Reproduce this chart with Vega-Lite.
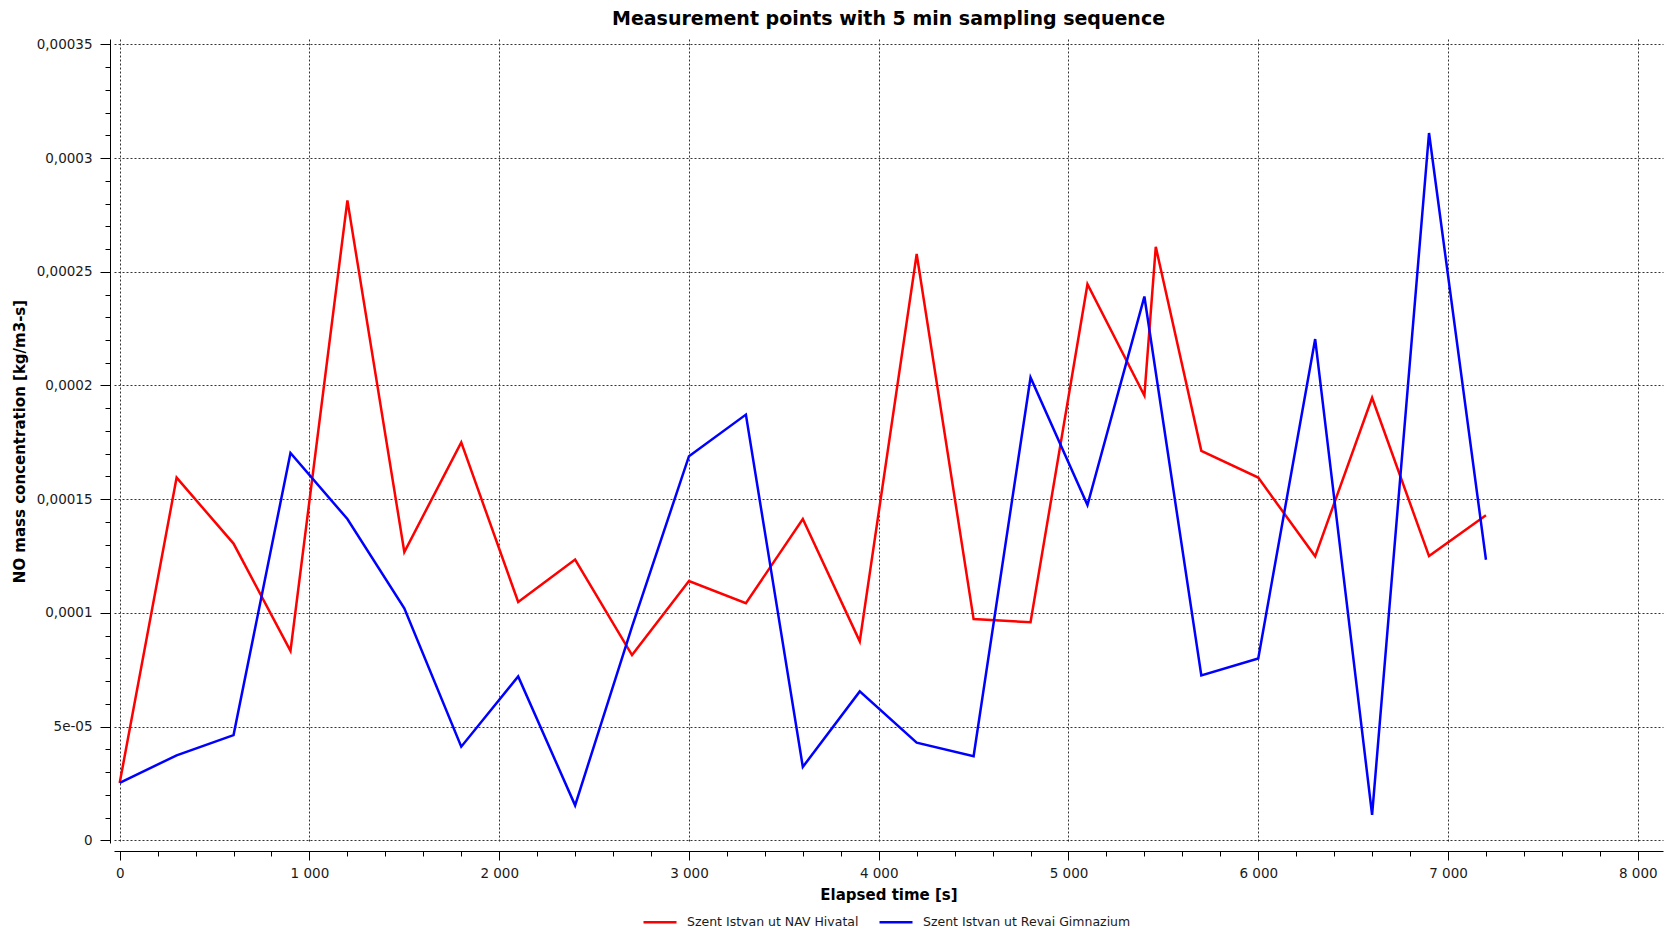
{
  "$schema": "https://vega.github.io/schema/vega-lite/v6.json",
  "autosize": {"type": "none"},
  "width": 1549,
  "height": 804,
  "padding": {"left": 114, "top": 39, "right": 4, "bottom": 92},
  "background": "#ffffff",
  "config": {"font": "DejaVu Sans", "view": {"stroke": null}},
  "title": {
    "text": "Measurement points with 5 min sampling sequence",
    "anchor": "middle",
    "frame": "group",
    "font": "DejaVu Sans",
    "fontSize": 19,
    "fontWeight": "bold",
    "color": "#000000",
    "offset": 8
  },
  "data": {
    "values": [
      {"t": 0, "v": 0.0000253, "s": "Szent Istvan ut NAV Hivatal"},
      {"t": 300, "v": 0.0001595, "s": "Szent Istvan ut NAV Hivatal"},
      {"t": 600, "v": 0.0001305, "s": "Szent Istvan ut NAV Hivatal"},
      {"t": 900, "v": 0.0000833, "s": "Szent Istvan ut NAV Hivatal"},
      {"t": 1200, "v": 0.0002814, "s": "Szent Istvan ut NAV Hivatal"},
      {"t": 1500, "v": 0.0001268, "s": "Szent Istvan ut NAV Hivatal"},
      {"t": 1800, "v": 0.000175, "s": "Szent Istvan ut NAV Hivatal"},
      {"t": 2100, "v": 0.0001048, "s": "Szent Istvan ut NAV Hivatal"},
      {"t": 2400, "v": 0.0001235, "s": "Szent Istvan ut NAV Hivatal"},
      {"t": 2700, "v": 0.0000815, "s": "Szent Istvan ut NAV Hivatal"},
      {"t": 3000, "v": 0.000114, "s": "Szent Istvan ut NAV Hivatal"},
      {"t": 3300, "v": 0.0001043, "s": "Szent Istvan ut NAV Hivatal"},
      {"t": 3600, "v": 0.0001413, "s": "Szent Istvan ut NAV Hivatal"},
      {"t": 3900, "v": 0.0000875, "s": "Szent Istvan ut NAV Hivatal"},
      {"t": 4200, "v": 0.0002578, "s": "Szent Istvan ut NAV Hivatal"},
      {"t": 4500, "v": 0.0000973, "s": "Szent Istvan ut NAV Hivatal"},
      {"t": 4800, "v": 0.0000959, "s": "Szent Istvan ut NAV Hivatal"},
      {"t": 5100, "v": 0.0002445, "s": "Szent Istvan ut NAV Hivatal"},
      {"t": 5400, "v": 0.0001956, "s": "Szent Istvan ut NAV Hivatal"},
      {"t": 5460, "v": 0.000261, "s": "Szent Istvan ut NAV Hivatal"},
      {"t": 5700, "v": 0.0001713, "s": "Szent Istvan ut NAV Hivatal"},
      {"t": 6000, "v": 0.0001595, "s": "Szent Istvan ut NAV Hivatal"},
      {"t": 6300, "v": 0.0001249, "s": "Szent Istvan ut NAV Hivatal"},
      {"t": 6600, "v": 0.0001946, "s": "Szent Istvan ut NAV Hivatal"},
      {"t": 6900, "v": 0.000125, "s": "Szent Istvan ut NAV Hivatal"},
      {"t": 7200, "v": 0.000143, "s": "Szent Istvan ut NAV Hivatal"},
      {"t": 0, "v": 0.0000253, "s": "Szent Istvan ut Revai Gimnazium"},
      {"t": 300, "v": 0.0000374, "s": "Szent Istvan ut Revai Gimnazium"},
      {"t": 600, "v": 0.0000463, "s": "Szent Istvan ut Revai Gimnazium"},
      {"t": 900, "v": 0.0001703, "s": "Szent Istvan ut Revai Gimnazium"},
      {"t": 1200, "v": 0.0001413, "s": "Szent Istvan ut Revai Gimnazium"},
      {"t": 1500, "v": 0.000102, "s": "Szent Istvan ut Revai Gimnazium"},
      {"t": 1800, "v": 0.0000412, "s": "Szent Istvan ut Revai Gimnazium"},
      {"t": 2100, "v": 0.0000721, "s": "Szent Istvan ut Revai Gimnazium"},
      {"t": 2400, "v": 0.0000154, "s": "Szent Istvan ut Revai Gimnazium"},
      {"t": 2700, "v": 0.000094, "s": "Szent Istvan ut Revai Gimnazium"},
      {"t": 3000, "v": 0.0001689, "s": "Szent Istvan ut Revai Gimnazium"},
      {"t": 3300, "v": 0.0001872, "s": "Szent Istvan ut Revai Gimnazium"},
      {"t": 3600, "v": 0.0000323, "s": "Szent Istvan ut Revai Gimnazium"},
      {"t": 3900, "v": 0.0000655, "s": "Szent Istvan ut Revai Gimnazium"},
      {"t": 4200, "v": 0.000043, "s": "Szent Istvan ut Revai Gimnazium"},
      {"t": 4500, "v": 0.000037, "s": "Szent Istvan ut Revai Gimnazium"},
      {"t": 4800, "v": 0.0002035, "s": "Szent Istvan ut Revai Gimnazium"},
      {"t": 5100, "v": 0.0001474, "s": "Szent Istvan ut Revai Gimnazium"},
      {"t": 5400, "v": 0.0002391, "s": "Szent Istvan ut Revai Gimnazium"},
      {"t": 5700, "v": 0.0000725, "s": "Szent Istvan ut Revai Gimnazium"},
      {"t": 6000, "v": 0.00008, "s": "Szent Istvan ut Revai Gimnazium"},
      {"t": 6300, "v": 0.0002204, "s": "Szent Istvan ut Revai Gimnazium"},
      {"t": 6600, "v": 0.0000112, "s": "Szent Istvan ut Revai Gimnazium"},
      {"t": 6900, "v": 0.000311, "s": "Szent Istvan ut Revai Gimnazium"},
      {"t": 7200, "v": 0.0001234, "s": "Szent Istvan ut Revai Gimnazium"}
    ]
  },
  "mark": {"type": "line", "strokeWidth": 2.5, "interpolate": "linear"},
  "encoding": {
    "x": {
      "field": "t",
      "type": "quantitative",
      "scale": {"domain": [-30, 8133], "nice": false, "zero": false},
      "axis": {
        "title": "Elapsed time [s]",
        "titleFont": "DejaVu Sans",
        "titleFontSize": 15,
        "titleFontWeight": "bold",
        "titleColor": "#000000",
        "titlePadding": 8,
        "values": [0, 200, 400, 600, 800, 1000, 1200, 1400, 1600, 1800, 2000, 2200, 2400, 2600, 2800, 3000, 3200, 3400, 3600, 3800, 4000, 4200, 4400, 4600, 4800, 5000, 5200, 5400, 5600, 5800, 6000, 6200, 6400, 6600, 6800, 7000, 7200, 7400, 7600, 7800, 8000],
        "offset": 8,
        "domainColor": "#000000",
        "domainWidth": 1,
        "tickColor": "#000000",
        "tickWidth": 1,
        "tickSize": {"condition": {"test": "datum.value % 1000 === 0", "value": 9}, "value": 5},
        "labelExpr": "datum.value % 1000 === 0 ? replace(format(datum.value, ','), ',', ' ') : ''",
        "labelFont": "DejaVu Sans",
        "labelFontSize": 13.5,
        "labelColor": "#1a1a1a",
        "labelPadding": 6,
        "labelOverlap": false,
        "labelFlush": false,
        "grid": true,
        "gridColor": "#333333",
        "gridDash": [2, 2],
        "gridWidth": 1,
        "gridOpacity": {"condition": {"test": "datum.value % 1000 === 0", "value": 1}, "value": 0}
      }
    },
    "y": {
      "field": "v",
      "type": "quantitative",
      "scale": {"domain": [-0.00000114, 0.00035233], "nice": false, "zero": false},
      "axis": {
        "title": "NO mass concentration [kg/m3-s]",
        "titleFont": "DejaVu Sans",
        "titleFontSize": 15,
        "titleFontWeight": "bold",
        "titleColor": "#000000",
        "titlePadding": 9,
        "values": [0, 0.00001, 0.00002, 0.00003, 0.00004, 0.00005, 0.00006, 0.00007, 0.00008, 0.00009, 0.0001, 0.00011, 0.00012, 0.00013, 0.00014, 0.00015, 0.00016, 0.00017, 0.00018, 0.00019, 0.0002, 0.00021, 0.00022, 0.00023, 0.00024, 0.00025, 0.00026, 0.00027, 0.00028, 0.00029, 0.0003, 0.00031, 0.00032, 0.00033, 0.00034, 0.00035],
        "offset": 4,
        "domainColor": "#000000",
        "domainWidth": 1,
        "tickColor": "#000000",
        "tickWidth": 1,
        "tickSize": {"condition": {"test": "abs(datum.value * 20000 - round(datum.value * 20000)) < 0.001", "value": 10}, "value": 5},
        "labelExpr": "abs(datum.value * 20000 - round(datum.value * 20000)) < 0.001 ? (datum.value === 0 ? '0' : (abs(datum.value - 0.00005) < 1e-9 ? '5e-05' : replace(format(datum.value, '~g'), '.', ','))) : ''",
        "labelFont": "DejaVu Sans",
        "labelFontSize": 13.5,
        "labelColor": "#1a1a1a",
        "labelPadding": 8,
        "labelOverlap": false,
        "labelFlush": false,
        "grid": true,
        "gridColor": "#333333",
        "gridDash": [2, 2],
        "gridWidth": 1,
        "gridOpacity": {"condition": {"test": "abs(datum.value * 20000 - round(datum.value * 20000)) < 0.001", "value": 1}, "value": 0}
      }
    },
    "color": {
      "field": "s",
      "type": "nominal",
      "scale": {"domain": ["Szent Istvan ut NAV Hivatal", "Szent Istvan ut Revai Gimnazium"], "range": ["#ff0000", "#0000ff"]},
      "legend": {
        "title": null,
        "orient": "none",
        "legendX": 528,
        "legendY": 865,
        "direction": "horizontal",
        "symbolType": "stroke",
        "symbolSize": 1089,
        "symbolStrokeWidth": 2.5,
        "labelFont": "DejaVu Sans",
        "labelFontSize": 12.5,
        "labelColor": "#1a1a1a",
        "labelOffset": 9,
        "labelLimit": 400,
        "columnPadding": 15,
        "padding": 0
      }
    }
  }
}
